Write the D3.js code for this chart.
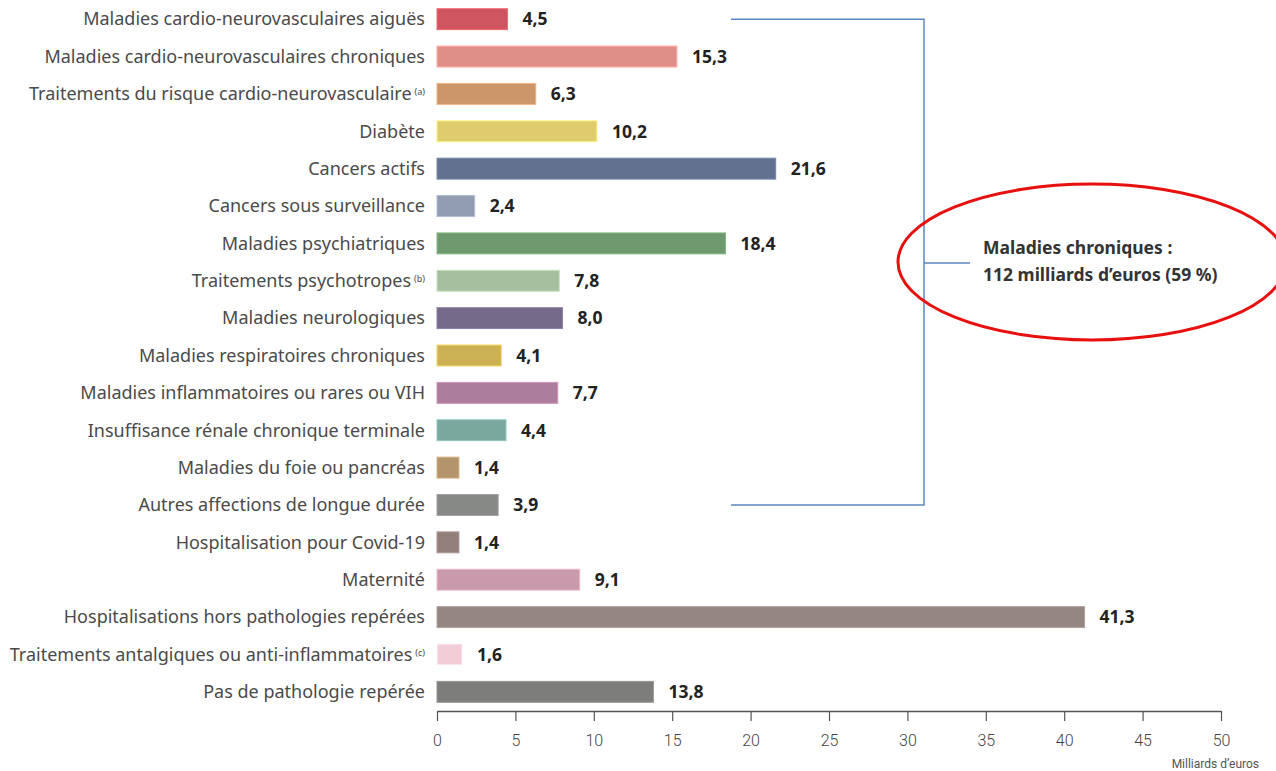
<!DOCTYPE html>
<html><head><meta charset="utf-8">
<script src="https://cdn.jsdelivr.net/npm/d3@7"></script>
<style>body{margin:0;background:#fff;}svg{display:block;}</style>
</head><body>
<svg id="c" width="1276" height="771"></svg>
<script>
const categories = [
  "Maladies cardio-neurovasculaires aiguës",
  "Maladies cardio-neurovasculaires chroniques",
  "Traitements du risque cardio-neurovasculaire",
  "Diabète",
  "Cancers actifs",
  "Cancers sous surveillance",
  "Maladies psychiatriques",
  "Traitements psychotropes",
  "Maladies neurologiques",
  "Maladies respiratoires chroniques",
  "Maladies inflammatoires ou rares ou VIH",
  "Insuffisance rénale chronique terminale",
  "Maladies du foie ou pancréas",
  "Autres affections de longue durée",
  "Hospitalisation pour Covid-19",
  "Maternité",
  "Hospitalisations hors pathologies repérées",
  "Traitements antalgiques ou anti-inflammatoires",
  "Pas de pathologie repérée"
];
const footnotes = ["", "", "(a)", "", "", "", "", "(b)", "", "", "", "", "", "", "", "", "", "(c)", ""];
const values = [4.5, 15.3, 6.3, 10.2, 21.6, 2.4, 18.4, 7.8, 8.0, 4.1, 7.7, 4.4, 1.4, 3.9, 1.4, 9.1, 41.3, 1.6, 13.8];
const colors = ["#cf5560","#df8f88","#cc966a","#dfcc6e","#62718f","#929db2","#6f9a70","#a5bf9f","#766a8a","#cdb255","#ac7d9c","#7aa89f","#b4946c","#878986","#927f7b","#c99aac","#948783","#f2ccd7","#7d7e7b"];
const xTicks = [0,5,10,15,20,25,30,35,40,45,50];
const axisTitle = "Milliards d’euros";
const bracketFirst = 0, bracketLast = 13;
const annotation = ["Maladies chroniques :", "112 milliards d’euros (59 %)"];

const svg = d3.select("#c");
const x = d3.scaleLinear().domain([0,50]).range([437,1221]);
const y = d3.scaleBand().domain(d3.range(categories.length)).range([0.5,710.5]).paddingInner(0.44).paddingOuter(0.22);

const fmt = v => d3.format(".1f")(v).replace(".", ",");

// bars
svg.append("g").selectAll("rect").data(values).join("rect")
  .attr("x", x(0))
  .attr("y", (d,i)=>y(i))
  .attr("width", d=>x(d)-x(0))
  .attr("height", y.bandwidth())
  .attr("fill", (d,i)=>colors[i])
  .attr("stroke", (d,i)=>d3.color(colors[i]).brighter(0.5))
  .attr("stroke-width", 1);

// category labels
const lab = svg.append("g").selectAll("text").data(categories).join("text")
  .attr("x", 425)
  .attr("y", (d,i)=>y(i)+y.bandwidth()/2)
  .attr("dy", "0.35em")
  .attr("text-anchor", "end")
  .attr("font-family", "'Noto Sans', sans-serif")
  .attr("font-size", 18)
  .attr("fill", "#4a4a4a");
lab.append("tspan").text(d=>d);
lab.filter((d,i)=>footnotes[i]).append("tspan")
  .attr("font-size", 9)
  .attr("dx", 3)
  .attr("dy", "-0.55em")
  .text((d,i)=>footnotes[categories.indexOf(d)]);

// value labels
svg.append("g").selectAll("text").data(values).join("text")
  .attr("x", d=>x(d)+15)
  .attr("y", (d,i)=>y(i)+y.bandwidth()/2)
  .attr("dy", "0.36em")
  .attr("font-family", "'Noto Sans', sans-serif")
  .attr("font-weight", "bold")
  .attr("font-size", 17.5)
  .attr("fill", "#222")
  .text(fmt);

// axis
const ax = svg.append("g").attr("transform","translate(0,711)")
  .call(d3.axisBottom(x).tickValues(xTicks).tickSize(10).tickPadding(14).tickSizeOuter(0));
ax.select(".domain").attr("stroke","#555").attr("stroke-width",1.5);
ax.selectAll(".tick line").attr("stroke","#555").attr("stroke-width",1.2);
ax.selectAll(".tick text").attr("font-family","Roboto, 'Open Sans', sans-serif").attr("font-size",16).attr("fill","#444").attr("font-weight",300);
svg.append("text").attr("x", 1259).attr("y", 768).attr("text-anchor","end")
  .attr("font-family","Roboto, sans-serif").attr("font-size",12).attr("fill","#555").text(axisTitle);

// bracket
const yTop = y(bracketFirst)+y.bandwidth()/2, yBot = y(bracketLast)+y.bandwidth()/2;
const bx0 = 731, bx1 = 924;
const yMid = 263;
svg.append("path")
  .attr("d", `M${bx0},${yTop}H${bx1}V${yBot}H${bx0}M${bx1},${yMid}H${970}`)
  .attr("fill","none").attr("stroke","#5b87c0").attr("stroke-width",1.5);

// annotation
const at = svg.append("text").attr("x", 983).attr("y", 254)
  .attr("font-family","'Noto Sans', sans-serif").attr("font-weight","bold").attr("font-size",17.5).attr("fill","#333");
at.selectAll("tspan").data(annotation).join("tspan").attr("x",983).attr("dy",(d,i)=>i?"1.55em":0).text(d=>d);

// red ellipse
svg.append("ellipse").attr("cx", 1092).attr("cy", 262).attr("rx", 194).attr("ry", 78)
  .attr("fill","none").attr("stroke","#e8100f").attr("stroke-width",3);
</script>
</body></html>
